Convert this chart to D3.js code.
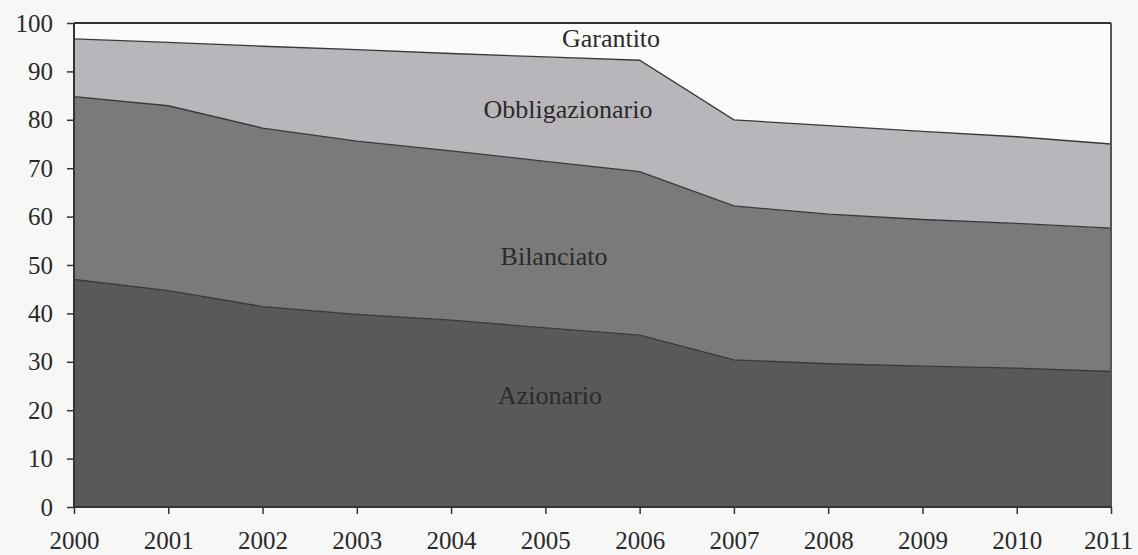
<!DOCTYPE html>
<html>
<head>
<meta charset="utf-8">
<script src="https://cdn.jsdelivr.net/npm/d3@7"></script>
<style>
  html, body { margin: 0; padding: 0; background: #f7f7f6; }
  svg { display: block; }
  text { font-family: "Liberation Serif", "Times New Roman", "DejaVu Serif", serif; fill: #2a2a2a; }
</style>
</head>
<body>
<div id="chart"></div>
<script>
const years = [2000, 2001, 2002, 2003, 2004, 2005, 2006, 2007, 2008, 2009, 2010, 2011]

// quote percentuali
const azionario      = [47.0, 44.7, 41.4, 39.8, 38.6, 37.0, 35.5, 30.4, 29.6, 29.1, 28.7, 28.0]
const bilanciato     = [37.8, 38.2, 36.9, 35.8, 35.0, 34.4, 33.8, 31.8, 30.9, 30.3, 29.9, 29.6]
const obbligazionario = [11.9, 13.1, 16.9, 18.9, 20.1, 21.6, 23.0, 17.8, 18.3, 18.2, 17.9, 17.4]
const garantito      = [3.3, 4.0, 4.8, 5.5, 6.3, 7.0, 7.7, 20.0, 21.2, 22.4, 23.5, 25.0]

const seriesNames = ['Azionario', 'Bilanciato', 'Obbligazionario', 'Garantito']
const yTicks = [0, 10, 20, 30, 40, 50, 60, 70, 80, 90, 100]

const serif = '"Liberation Serif", "Times New Roman", "DejaVu Serif", serif'

let dim = {
  width: 1138,
  height: 555,
  left: 74,
  right: 1111,
  top: 23,
  bottom: 507
}

let rows = years.map((y, i) => ({
  year: y,
  Azionario: azionario[i],
  Bilanciato: bilanciato[i],
  Obbligazionario: obbligazionario[i],
  Garantito: garantito[i]
}))

let svg = d3.select('#chart').append('svg')
  .attr('width', dim.width)
  .attr('height', dim.height)

let x = d3.scaleLinear()
  .domain(d3.extent(years))
  .range([dim.left, dim.right])

let y = d3.scaleLinear()
  .domain([0, 100])
  .range([dim.bottom, dim.top])

let stack = d3.stack().keys(seriesNames)(rows)

let fills = {
  Azionario: '#5a585b',
  Bilanciato: '#7c797d',
  Obbligazionario: '#b8b6ba',
  Garantito: '#fbfbfa'
}

let area = d3.area()
  .x(d => x(d.data.year))
  .y0(d => y(d[0]))
  .y1(d => y(d[1]))

let topLine = d3.line()
  .x(d => x(d.data.year))
  .y(d => y(d[1]))

svg.selectAll('path.area')
  .data(stack)
  .enter()
  .append('path')
  .attr('class', 'area')
  .attr('d', area)
  .attr('fill', d => fills[d.key])

// linee di separazione tra le fasce
svg.selectAll('path.edge')
  .data(stack.slice(0, 3))
  .enter()
  .append('path')
  .attr('class', 'edge')
  .attr('d', topLine)
  .attr('fill', 'none')
  .attr('stroke', '#3a383b')
  .attr('stroke-width', 1.3)

// cornice superiore e destra
svg.append('line')
  .attr('x1', dim.left).attr('x2', dim.right)
  .attr('y1', dim.top).attr('y2', dim.top)
  .attr('stroke', '#333').attr('stroke-width', 2)
svg.append('line')
  .attr('x1', dim.right).attr('x2', dim.right)
  .attr('y1', dim.top).attr('y2', dim.bottom)
  .attr('stroke', '#555').attr('stroke-width', 2)

let axisY = d3.axisLeft(y)
  .tickValues(yTicks)
  .tickSize(7)
  .tickPadding(14)

let axisX = d3.axisBottom(x)
  .tickValues(years)
  .tickFormat(d3.format('d'))
  .tickSize(7)
  .tickPadding(17)

let gy = svg.append('g')
  .attr('transform', `translate(${dim.left},0)`)
  .call(axisY)

let gx = svg.append('g')
  .attr('transform', `translate(0,${dim.bottom})`)
  .call(axisX)

;[gx, gy].forEach(g => {
  g.attr('font-family', serif)
  g.select('.domain').attr('stroke', '#333').attr('stroke-width', 2)
  g.selectAll('.tick line').attr('stroke', '#333').attr('stroke-width', 1.5)
  g.selectAll('.tick text')
    .attr('fill', '#2a2a2a')
    .attr('font-family', serif)
    .style('font-size', '25px')
})
gx.select('.domain').attr('d', `M${dim.left},0H${dim.right}`)
gy.select('.domain').attr('d', `M0,${dim.bottom}V${dim.top}`)
// l'ultimo anno resta dentro il bordo destro
gx.selectAll('.tick text').filter(d => d === 2011).attr('dx', -3)

// etichette delle fasce
const labelPos = [
  { name: 'Azionario', x: 550, y: 404 },
  { name: 'Bilanciato', x: 554, y: 265 },
  { name: 'Obbligazionario', x: 568, y: 118 },
  { name: 'Garantito', x: 611, y: 47 }
]

svg.selectAll('text.label')
  .data(labelPos)
  .enter()
  .append('text')
  .attr('class', 'label')
  .attr('x', d => d.x)
  .attr('y', d => d.y)
  .attr('text-anchor', 'middle')
  .attr('font-family', serif)
  .style('font-size', '26px')
  .text(d => d.name)
</script>
</body>
</html>
